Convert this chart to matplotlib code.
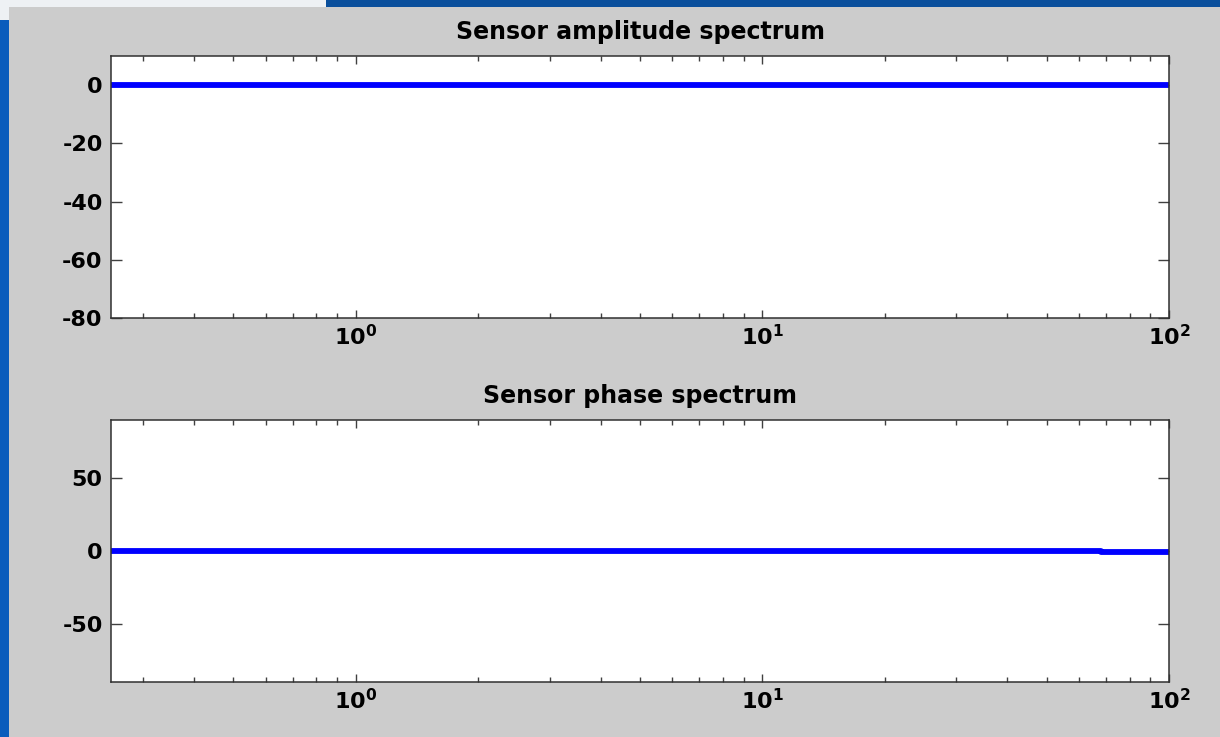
import matplotlib
matplotlib.use("Agg")
import matplotlib.pyplot as plt
from matplotlib.patches import Rectangle
from matplotlib.ticker import LogLocator, NullFormatter

# sensor frequency response (Hz, dB, degrees)
freq_hz = [0.25, 1.0, 10.0, 68.0, 68.0, 100.0]
amplitude_db = [0.0, 0.0, 0.0, 0.0, 0.0, 0.0]
phase_deg = [0.0, 0.0, 0.0, 0.0, -1.0, -1.0]

amp_yticks = [-80, -60, -40, -20, 0]
phase_yticks = [-50, 0, 50]

plt.rcParams["font.family"] = ["DejaVu Sans"]
plt.rcParams["font.weight"] = "bold"
plt.rcParams["axes.unicode_minus"] = False

W, H = 1220, 737
fig = plt.figure(figsize=(W / 100, H / 100), dpi=100)
fig.patch.set_facecolor("#0a5cbc")

# slide background strips behind the figure window
fig.patches.append(Rectangle((0, 0), 1, 1, transform=fig.transFigure,
                             facecolor="#0a5cbc", edgecolor="none", zorder=-3))
fig.patches.append(Rectangle((0, 1 - 20 / H), 326 / W, 20 / H, transform=fig.transFigure,
                             facecolor="#eef1f4", edgecolor="none", zorder=-2))
fig.patches.append(Rectangle((326 / W, 1 - 7 / H), 1 - 326 / W, 7 / H, transform=fig.transFigure,
                             facecolor="#0a4f9c", edgecolor="none", zorder=-2))
fig.patches.append(Rectangle((9 / W, 0), 1 - 9 / W, 1 - 7 / H, transform=fig.transFigure,
                             facecolor="#cccccc", edgecolor="none", zorder=-1))


def style_axis(ax, yticks, ylim, title):
    ax.set_xscale("log")
    ax.set_xlim(0.25, 100)
    ax.set_ylim(*ylim)
    ax.set_yticks(yticks)
    ax.xaxis.set_major_locator(LogLocator(base=10, numticks=10))
    ax.xaxis.set_minor_locator(LogLocator(base=10, subs=range(2, 10), numticks=20))
    ax.xaxis.set_minor_formatter(NullFormatter())
    ax.tick_params(which="both", direction="in", top=True, right=True,
                   color="#404040", width=1.0, labelsize=16)
    ax.tick_params(axis="x", which="major", length=5.5, pad=4)
    ax.tick_params(axis="x", which="minor", length=3.5)
    ax.tick_params(axis="y", which="major", length=8, pad=6)
    for lab in ax.get_xticklabels() + ax.get_yticklabels():
        lab.set_fontweight("bold")
    for sp in ax.spines.values():
        sp.set_color("#303030")
        sp.set_linewidth(1.1)
    ax.set_facecolor("white")
    ax.set_title(title, fontsize=17, fontweight="bold", pad=12)


ax1 = fig.add_axes([111 / W, 1 - 318 / H, 1058 / W, 262 / H])
ax1.plot(freq_hz, amplitude_db, color="#0000ff", linewidth=4.2, solid_capstyle="butt")
style_axis(ax1, amp_yticks, (-80, 10), "Sensor amplitude spectrum")

ax2 = fig.add_axes([111 / W, 1 - 682 / H, 1058 / W, 262 / H])
ax2.plot(freq_hz, phase_deg, color="#0000ff", linewidth=4.2, solid_capstyle="butt")
style_axis(ax2, phase_yticks, (-90, 90), "Sensor phase spectrum")

fig.savefig("out.png", dpi=100, facecolor=fig.get_facecolor())
